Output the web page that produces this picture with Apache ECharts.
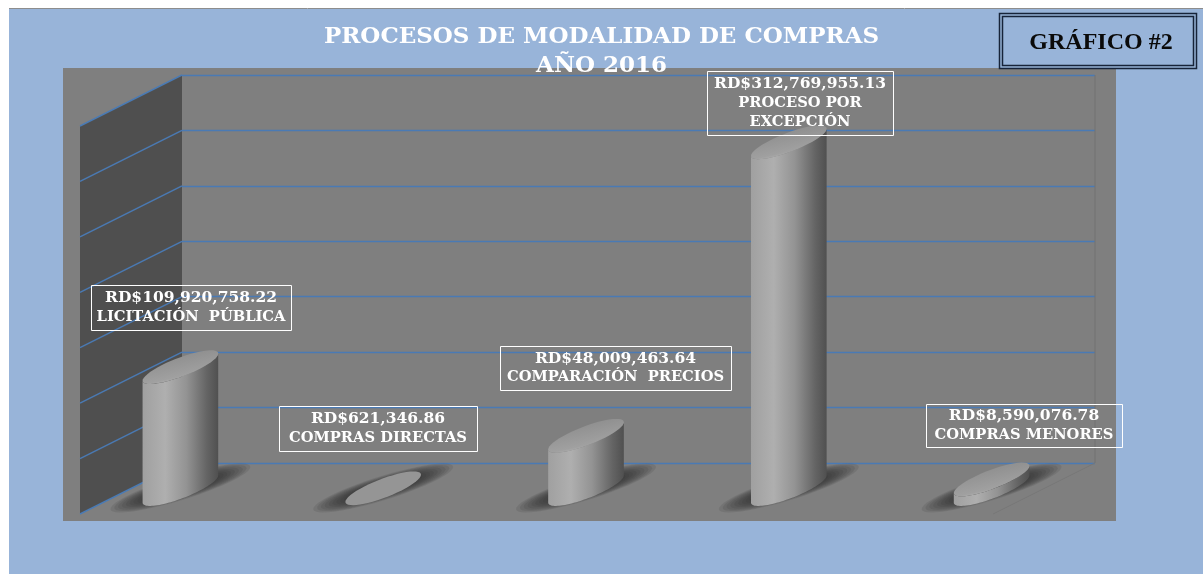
<!DOCTYPE html>
<html><head><meta charset="utf-8">
<style>html,body{margin:0;padding:0;background:#fff}#c{width:1203px;height:574px}</style>
<script src="https://cdn.jsdelivr.net/npm/echarts@6/dist/echarts.min.js"></script>
</head><body><div id="c"></div>
<script>
const categories = ['LICITACIÓN  PÚBLICA','COMPRAS DIRECTAS','COMPARACIÓN  PRECIOS','PROCESO POR\nEXCEPCIÓN','COMPRAS MENORES'];
const amounts = [109920758.22, 621346.86, 48009463.64, 312769955.13, 8590076.78];
const gridTicks = [0,50000000,100000000,150000000,200000000,250000000,300000000,350000000];
const labelBoxes = [[91,285,200,45],[279,406,198,45],[500,346,231,44],[707,71,186,64],[926,404,196,43]];

const SHEAR = 0.36, THICK = 10;             // tilt of the elliptical sections
const WALL_DX = 102, WALL_DY = 51;          // oblique depth of the left wall
const SERIF = '"DejaVu Serif"';
const money = v => 'RD$' + v.toLocaleString('en-US',{minimumFractionDigits:2,maximumFractionDigits:2});

function ell(cx, cy, a, sh, th, from, to){
  const pts=[]; const n=48;
  for(let i=0;i<=n;i++){
    const t=from+(to-from)*i/n;
    pts.push([cx+a*Math.cos(t), cy-a*sh*Math.cos(t)+th*Math.sin(t)]);
  }
  return pts;
}
function cylinder(params, api){
  const i=api.value(0), v=api.value(1);
  const top=api.coord([i,v]), base=api.coord([i,0]);
  const a=api.size([1,0])[0]*0.1865;
  const cx=base[0];
  const tall=base[1]-top[1]>3;
  const children=[];
  // soft contact shadow built from nested translucent ellipses
  const layers=10;
  for(let k=0;k<layers;k++){
    const s=1-k*0.055;
    children.push({
      type:'polygon',silent:true,
      shape:{points:ell(cx,base[1]-1,a*1.85*s,0.3,12.5*s,0,Math.PI*2)},
      style:{fill:'rgba(45,45,45,0.12)'}
    });
  }
  if(tall){
    const lower=ell(cx,base[1],a,SHEAR,THICK,0,Math.PI);
    const upper=ell(cx,top[1],a,SHEAR,THICK,Math.PI,0);
    children.push({
      type:'polygon',
      shape:{points:lower.concat(upper)},
      style:{fill:{type:'linear',x:0,y:0,x2:1,y2:0,colorStops:[
        {offset:0,color:'#a0a0a0'},{offset:0.3,color:'#afafaf'},{offset:0.58,color:'#939393'},
        {offset:0.85,color:'#646464'},{offset:1,color:'#505050'}]}}
    });
    children.push({
      type:'polygon',
      shape:{points:ell(cx,top[1],a,SHEAR,THICK,0,Math.PI*2)},
      style:{fill:{type:'linear',x:0.52,y:0,x2:0.62,y2:1,colorStops:[
        {offset:0,color:'#8c8c8c'},{offset:0.72,color:'#a0a0a0'},{offset:0.92,color:'#bababa'},{offset:1,color:'#b0b0b0'}]}}
    });
  } else {
    children.push({
      type:'polygon',
      shape:{points:ell(cx,top[1],a,SHEAR,THICK,0,Math.PI*2)},
      style:{fill:'#959595'}
    });
  }
  return {type:'group',children};
}

const wallTop=75, wallBottom=463;
const option={
  animation:false,
  backgroundColor:'#ffffff',
  title:{
    text:'PROCESOS DE MODALIDAD DE COMPRAS\nAÑO 2016',
    left:596.5,top:17.5,textAlign:'center',
    textStyle:{fontFamily:SERIF,fontWeight:'bold',fontSize:23,color:'#ffffff',lineHeight:29}
  },
  graphic:[
    {type:'rect',z:-30,silent:true,shape:{x:9,y:9,width:1194,height:565},style:{fill:'#98b4d9'}},
    {type:'line',z:-29,silent:true,shape:{x1:9,y1:8.5,x2:1203,y2:8.5},style:{stroke:'#8d8d8d',lineWidth:1}},
    {type:'rect',z:-28,silent:true,shape:{x:63,y:68,width:1053,height:453},style:{fill:'#7f7f7f'}},
    {type:'rect',z:40,silent:true,shape:{x:999.5,y:13.5,width:197,height:55},style:{fill:'none',stroke:'#17243a',lineWidth:1.5}},
    {type:'rect',z:40,silent:true,shape:{x:1002.5,y:16.5,width:191,height:49},style:{fill:'none',stroke:'#17243a',lineWidth:1.5}},
    {type:'text',z:41,silent:true,style:{x:1101,y:43,text:'GRÁFICO #2',align:'center',verticalAlign:'middle',
      font:'bold 24px "Liberation Serif"',fill:'#0a0a0a'}}
  ],
  grid:[
    {left:182,top:wallTop,width:913,height:wallBottom-wallTop,show:false},
    {left:79,top:101,width:1014,height:388,show:false}
  ],
  xAxis:[
    {gridIndex:0,type:'category',data:categories,show:false},
    {gridIndex:1,type:'category',data:categories,show:false}
  ],
  yAxis:[
    {gridIndex:0,type:'value',min:0,max:350000000,interval:50000000,
      axisLine:{show:false},axisTick:{show:false},axisLabel:{show:false},
      splitLine:{show:true,lineStyle:{color:'#4a7ab4',width:1.4}}},
    {gridIndex:1,type:'value',min:0,max:350000000,interval:50000000,show:false,splitLine:{show:false}}
  ],
  series:[
    {
      name:'pared',type:'custom',xAxisIndex:0,yAxisIndex:0,z:1,silent:true,clip:false,
      data:gridTicks.map(v=>[0,v]),
      renderItem(params,api){
        const cs=params.coordSys;
        const y=api.coord([0,api.value(1)])[1];
        const kids=[];
        if(params.dataIndex===0){
          kids.push({type:'polygon',shape:{points:[[cs.x,cs.y],[cs.x,cs.y+cs.height],
            [cs.x-WALL_DX,cs.y+cs.height+WALL_DY],[cs.x-WALL_DX,cs.y+WALL_DY]]},style:{fill:'#4f4f4f'}});
          kids.push({type:'line',shape:{x1:cs.x+cs.width,y1:cs.y,x2:cs.x+cs.width,y2:cs.y+cs.height},
            style:{stroke:'#727272',lineWidth:1}});
          kids.push({type:'line',shape:{x1:cs.x+cs.width,y1:cs.y+cs.height,x2:cs.x+cs.width-WALL_DX,y2:cs.y+cs.height+WALL_DY},
            style:{stroke:'#777777',lineWidth:1}});
        }
        kids.push({type:'line',z2:2,shape:{x1:cs.x,y1:y,x2:cs.x-WALL_DX,y2:y+WALL_DY},style:{stroke:'#4a7ab4',lineWidth:1.4}});
        return {type:'group',children:kids};
      }
    },
    {
      name:'Monto',type:'custom',xAxisIndex:1,yAxisIndex:1,z:3,clip:false,
      encode:{x:0,y:1},
      data:amounts.map((v,i)=>[i,v]),
      renderItem:cylinder
    },
    {
      name:'Etiquetas',type:'custom',xAxisIndex:1,yAxisIndex:1,z:10,clip:false,silent:true,
      data:amounts.map((v,i)=>[i,v]),
      renderItem(params,api){
        const i=api.value(0), b=labelBoxes[i];
        const catLines=categories[i].split('\n').map(l=>'{c|'+l+'}').join('\n');
        return {type:'group',children:[
          {type:'rect',shape:{x:b[0]+.5,y:b[1]+.5,width:b[2],height:b[3]},style:{fill:'none',stroke:'#ffffff',lineWidth:1}},
          {type:'text',style:{x:b[0]+b[2]/2,y:b[1]+b[3]/2,align:'center',verticalAlign:'middle',
            text:'{m|'+money(api.value(1))+'}\n'+catLines,
            rich:{
              m:{fontFamily:SERIF,fontWeight:'bold',fontSize:15.5,lineHeight:19,fill:'#ffffff',color:'#ffffff'},
              c:{fontFamily:SERIF,fontWeight:'bold',fontSize:14.7,lineHeight:19,fill:'#ffffff',color:'#ffffff'}
            },
            fill:'#ffffff'}}
        ]};
      }
    }
  ]
};
echarts.init(document.getElementById('c'),null,{renderer:'canvas'}).setOption(option);
</script></body></html>
